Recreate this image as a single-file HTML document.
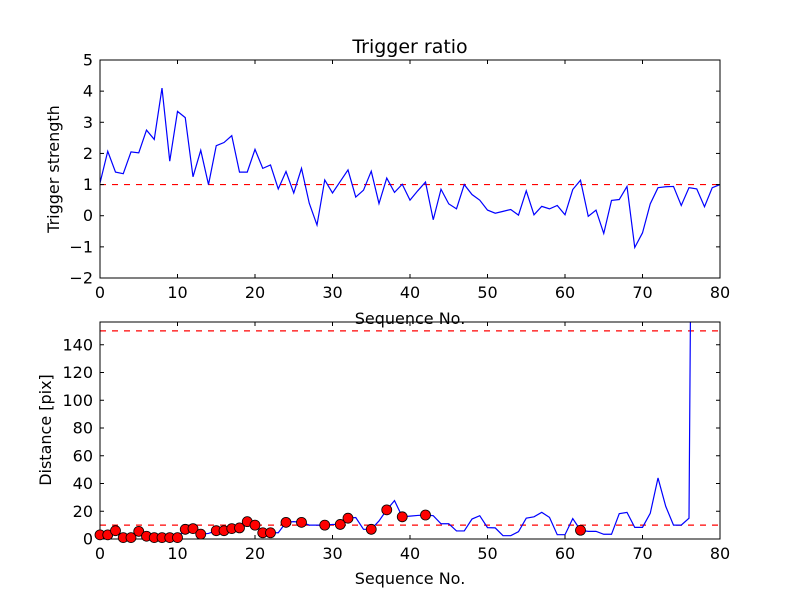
<!DOCTYPE html>
<html><head><meta charset="utf-8"><style>
html,body{margin:0;padding:0;background:#fff}
svg{display:block;font-family:"DejaVu Sans","Liberation Sans",sans-serif}
</style></head><body>
<svg id="chart" width="800" height="600" viewBox="0 0 800 600">
<rect width="800" height="600" fill="#fff"/>
</svg>
<script>
const topValues=[1.05,2.07,1.4,1.35,2.05,2.02,2.75,2.45,4.1,1.75,3.35,3.15,1.25,2.1,1.0,2.25,2.35,2.57,1.4,1.4,2.13,1.52,1.63,0.86,1.42,0.73,1.52,0.4,-0.3,1.15,0.73,1.1,1.47,0.6,0.82,1.43,0.39,1.21,0.75,1.01,0.5,0.8,1.08,-0.13,0.85,0.38,0.22,1.0,0.68,0.5,0.18,0.08,0.14,0.2,0.02,0.8,0.03,0.3,0.22,0.33,0.03,0.84,1.14,-0.02,0.18,-0.57,0.49,0.52,0.94,-1.02,-0.55,0.38,0.9,0.93,0.94,0.33,0.9,0.86,0.29,0.9,1.0];
const distValues=[3,3,6,1,1,5.5,2,1,1,1,1,7,7.5,3.5,4,6,6,7.5,8,12.5,10,4.5,4.5,4.5,12,12.5,12,10,10,10,10.5,10.5,15,15.5,7,7,13,21,27.7,16,16.5,17,17.3,16.8,11,11,5.8,5.8,14.4,16.8,8.2,8,2.4,2.4,5.3,15,16,19.2,15.6,3.1,3.1,14.7,6.3,5.5,5.5,3.4,3.4,18.3,19.2,8.4,8.4,18.5,44,23.5,10,10,15,800,900,700,900];
const flaggedIdx=[0,1,2,3,4,5,6,7,8,9,10,11,12,13,15,16,17,18,19,20,21,22,24,26,29,31,32,35,37,39,42,62];
const topYTicks=[-2,-1,0,1,2,3,4,5];
const botYTicks=[0,20,40,60,80,100,120,140];
const xTicks=[0,10,20,30,40,50,60,70,80];
const topThreshold=[1];
const botThresholds=[10,150];

const NS='http://www.w3.org/2000/svg';
const svg=document.getElementById('chart');
function mk(tag,attrs,parent){const e=document.createElementNS(NS,tag);for(const k in attrs)e.setAttribute(k,attrs[k]);(parent||svg).appendChild(e);return e;}

function panel(cfg){
  const {x0,x1,y0,y1,ymin,ymax,name}=cfg;
  const sx=v=>x0+(v-0)/(80-0)*(x1-x0);
  const sy=v=>y1-(v-ymin)/(ymax-ymin)*(y1-y0);
  const g=mk('g',{});
  
  
  const cid='clip-'+name;
  const cp=mk('clipPath',{id:cid},g);mk('rect',{x:x0,y:y0,width:x1-x0,height:y1-y0},cp);
  const plot=mk('g',{'clip-path':'url(#'+cid+')'},g);
  return {g,plot,sx,sy};
}
function frame(p,cfg,yTicks){
  const {x0,x1,y0,y1}=cfg;const g=p.g;
  xTicks.forEach(t=>{const x=p.sx(t);
    mk('line',{x1:x,y1:y1,x2:x,y2:y1-4,stroke:'#000'},g);
    mk('line',{x1:x,y1:y0,x2:x,y2:y0+4,stroke:'#000'},g);
    const tx=mk('text',{x:x,y:y1+20,'font-size':16,'text-anchor':'middle'},g);tx.textContent=t;
    
    
  });
  yTicks.forEach(t=>{const y=p.sy(t);
    mk('line',{x1:x0,y1:y,x2:x0+4,y2:y,stroke:'#000'},g);
    mk('line',{x1:x1,y1:y,x2:x1-4,y2:y,stroke:'#000'},g);
    const tx=mk('text',{x:x0-7,y:y+5.5,'font-size':16,'text-anchor':'end'},g);tx.textContent=(t<0?'\u2212'+(-t):t);
    
    
  });
  const r=mk('rect',{x:x0,y:y0,width:x1-x0,height:y1-y0,fill:'none',stroke:'#000','stroke-width':1},g);
  
  
}

// top
const cTop={x0:100,x1:720,y0:60,y1:278,ymin:-2,ymax:5,name:'top'};
const pT=panel(cTop);
topThreshold.forEach(v=>{const l=mk('line',{x1:100,x2:720,y1:pT.sy(v),y2:pT.sy(v),stroke:'#f00','stroke-width':1.2,'stroke-dasharray':'6,6'},pT.plot);
  
  });
const lt=mk('polyline',{points:topValues.map((v,i)=>pT.sx(i)+','+pT.sy(v)).join(' '),fill:'none',stroke:'#00f','stroke-width':1.2},pT.plot);


frame(pT,cTop,topYTicks);

// bottom
const cBot={x0:100,x1:720,y0:322,y1:539,ymin:0,ymax:156.4,name:'bottom'};
const pB=panel(cBot);
botThresholds.forEach(v=>{const l=mk('line',{x1:100,x2:720,y1:pB.sy(v),y2:pB.sy(v),stroke:'#f00','stroke-width':1.2,'stroke-dasharray':'6,6'},pB.plot);
  
  });
const lb=mk('polyline',{points:distValues.map((v,i)=>pB.sx(i)+','+pB.sy(v)).join(' '),fill:'none',stroke:'#00f','stroke-width':1.2},pB.plot);


flaggedIdx.forEach(i=>{const c=mk('circle',{cx:pB.sx(i),cy:pB.sy(distValues[i]),r:5,fill:'#f00',stroke:'#000','stroke-width':0.8},svg);
  
  });
frame(pB,cBot,botYTicks);

function label(txt,attrs,name){const t=mk('text',attrs);t.textContent=txt;
  
  }
label('Trigger ratio',{x:410,y:53,'font-size':19,'text-anchor':'middle'},'chart-title');
label('Sequence No.',{x:410,y:324,'font-size':16,'text-anchor':'middle'},'top-x-axis-title');
label('Sequence No.',{x:410,y:584,'font-size':16,'text-anchor':'middle'},'bottom-x-axis-title');
label('Trigger strength',{x:0,y:0,'font-size':16,'text-anchor':'middle',transform:'translate(59,169) rotate(-90)'},'top-y-axis-title');
label('Distance [pix]',{x:0,y:0,'font-size':16,'text-anchor':'middle',transform:'translate(51,430) rotate(-90)'},'bottom-y-axis-title');
</script>
</body></html>
